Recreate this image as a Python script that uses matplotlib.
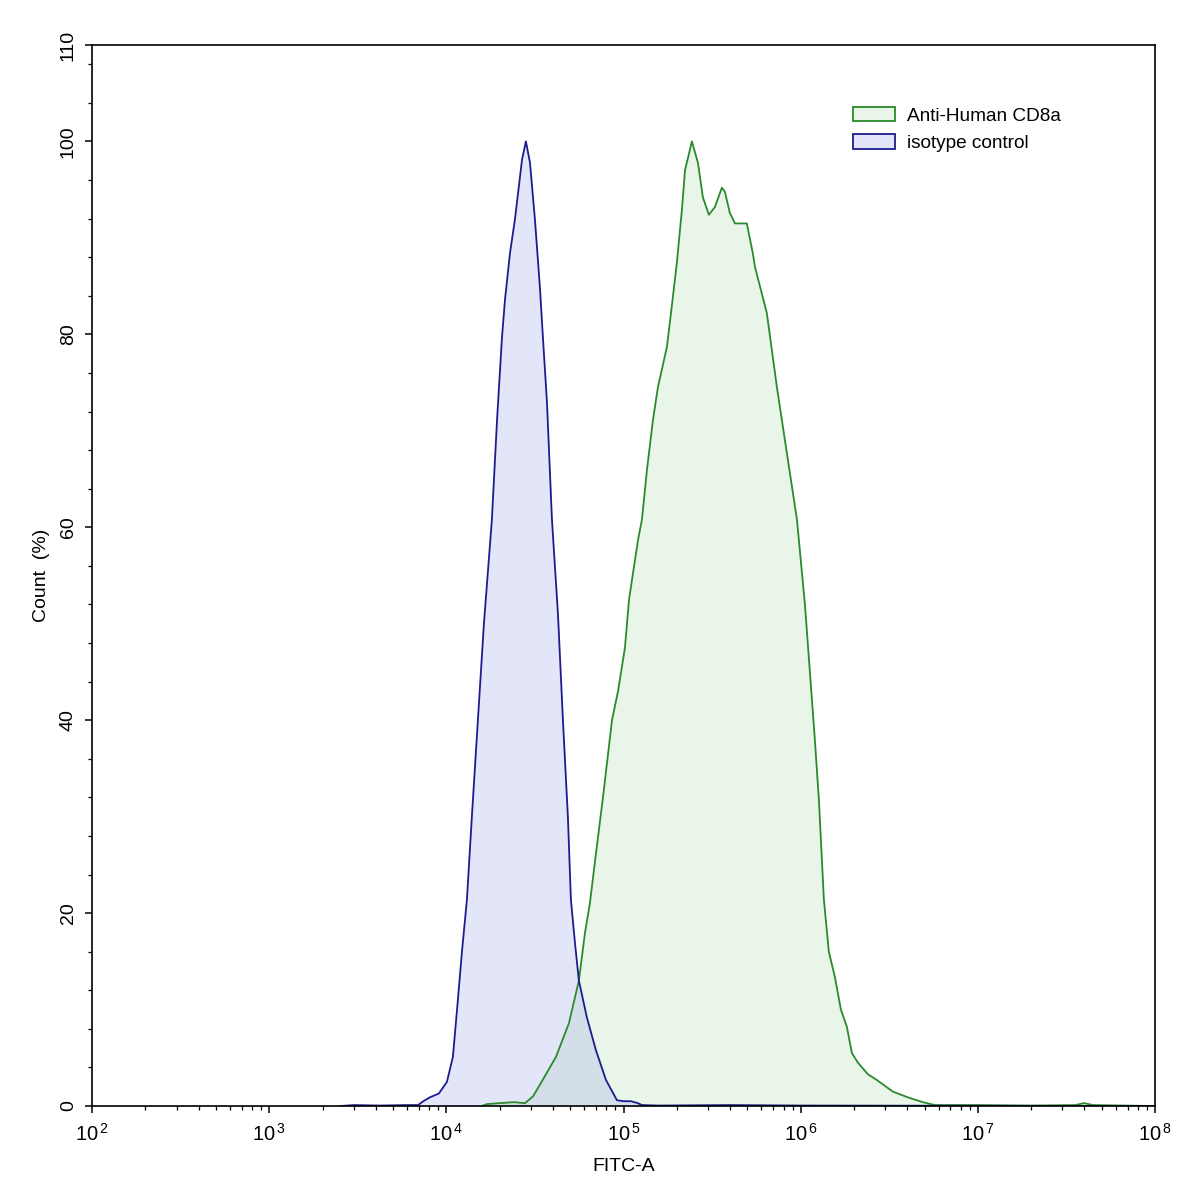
import numpy as np
import matplotlib
matplotlib.use("Agg")
import matplotlib.pyplot as plt
from matplotlib.patches import Patch
from matplotlib.ticker import FixedLocator, LogLocator, NullFormatter

plt.rcParams['font.family'] = ['Liberation Sans', 'DejaVu Sans']
plt.rcParams['mathtext.fontset'] = 'custom'
plt.rcParams['mathtext.rm'] = 'Liberation Sans'
plt.rcParams['mathtext.it'] = 'Liberation Sans'

# isotype control histogram (log10 FITC-A, count %)
iso_log = [3.40, 3.48, 3.62, 3.78, 3.84, 3.87, 3.907, 3.958, 4.003, 4.037, 4.065, 4.088,
           4.116, 4.144, 4.178, 4.212, 4.257, 4.286, 4.314, 4.331, 4.359, 4.387, 4.427,
           4.449, 4.472, 4.500, 4.528, 4.545, 4.568, 4.596, 4.630, 4.658, 4.686, 4.703,
           4.726, 4.748, 4.793, 4.844, 4.901, 4.963, 5.00, 5.042, 5.08, 5.104, 5.2,
           5.6, 6.0, 8.0]
iso_cnt = [0, 0.1, 0.05, 0.1, 0.1, 0.5, 0.9, 1.3, 2.5, 5.1, 11, 16,
           21.4, 30, 40, 50, 60.8, 71.1, 79.7, 83.6, 88.4, 91.9, 98.1,
           100, 97.8, 91.9, 84.9, 79.7, 72.9, 60.8, 51, 40, 30, 21.4,
           16.9, 13, 9.2, 5.8, 2.7, 0.6, 0.5, 0.5, 0.3, 0.1, 0.05,
           0.1, 0.05, 0]

# Anti-Human CD8a histogram
cd8_log = [4.20, 4.229, 4.302, 4.381, 4.444, 4.489, 4.534, 4.619, 4.692, 4.748, 4.782,
           4.810, 4.850, 4.884, 4.935, 4.969, 5.008, 5.031, 5.082, 5.104, 5.132, 5.166,
           5.194, 5.245, 5.273, 5.301, 5.330, 5.347, 5.386, 5.420, 5.448, 5.482, 5.516,
           5.555, 5.572, 5.600, 5.629, 5.696, 5.730, 5.742, 5.809, 5.866, 5.922, 5.979,
           6.024, 6.052, 6.080, 6.103, 6.131, 6.159, 6.193, 6.227, 6.261, 6.289, 6.323,
           6.379, 6.430, 6.520, 6.605, 6.690, 6.757, 7.0, 7.3, 7.55, 7.6, 7.65, 8.0]
cd8_cnt = [0, 0.2, 0.3, 0.4, 0.3, 1.0, 2.4, 5.1, 8.6, 13, 17.9,
           21, 27, 32, 40, 43, 47.5, 52.5, 58.7, 60.8, 65.9, 71.1,
           74.5, 78.7, 83, 87.4, 93, 97, 100, 97.8, 94.2, 92.4, 93.2,
           95.2, 94.8, 92.6, 91.5, 91.5, 88.4, 87, 82.2, 74.5, 67.7, 60.8,
           52, 45, 38, 31.7, 21.4, 16, 13.4, 10, 8.2, 5.5, 4.5,
           3.3, 2.7, 1.5, 0.9, 0.4, 0.1, 0.1, 0.05, 0.1, 0.3, 0.1, 0]

x_exps = [2, 3, 4, 5, 6, 7, 8]
y_ticks = [0, 20, 40, 60, 80, 100, 110]

green_line, green_fill = '#2b8a2b', '#e8f5e8'
blue_line, blue_fill = '#1c1c8f', '#a5acee'

fig = plt.figure(figsize=(11.97, 11.93), dpi=100)
ax = fig.add_axes([0.0769, 0.0729, 0.8880, 0.8894])

iso_x = 10 ** np.array(iso_log)
cd8_x = 10 ** np.array(cd8_log)

ax.fill_between(cd8_x, cd8_cnt, color=green_fill, lw=0)
ax.plot(cd8_x, cd8_cnt, color=green_line, lw=1.3)
ax.fill_between(iso_x, iso_cnt, color=blue_fill, alpha=0.3, lw=0)
ax.plot(iso_x, iso_cnt, color=blue_line, lw=1.3)

ax.set_xscale('log')
ax.set_xlim(1e2, 1e8)
ax.set_ylim(0, 110)
ax.xaxis.set_major_locator(FixedLocator([10.0 ** e for e in x_exps]))
ax.set_xticklabels([r'$10^{\,%d}$' % e for e in x_exps])
ax.xaxis.set_minor_locator(LogLocator(base=10, subs=np.arange(2, 10), numticks=50))
ax.xaxis.set_minor_formatter(NullFormatter())
ax.yaxis.set_major_locator(FixedLocator(y_ticks))
ax.yaxis.set_minor_locator(FixedLocator(np.arange(0, 111, 4)))

ax.tick_params(axis='both', which='major', length=5, width=1.1, direction='out')
ax.tick_params(axis='x', which='major', labelsize=14.5, pad=7)
ax.tick_params(axis='y', which='major', labelsize=14, pad=6)
ax.tick_params(axis='both', which='minor', length=3, width=0.9, direction='out')
for lbl in ax.get_yticklabels():
    lbl.set_rotation(90)
    lbl.set_va('center')
for s in ax.spines.values():
    s.set_linewidth(1.2)

ax.set_xlabel('FITC-A', fontsize=14, labelpad=10)
ax.set_ylabel('Count  (%)', fontsize=14, labelpad=7)

handles = [Patch(facecolor=green_fill, edgecolor=green_line, lw=1.3),
           Patch(facecolor='#e3e6fa', edgecolor=blue_line, lw=1.3)]
ax.legend(handles, ['Anti-Human CD8a', 'isotype control'], loc='upper right',
          bbox_to_anchor=(0.928, 0.958), frameon=False, fontsize=13.7,
          handlelength=2.2, handleheight=0.8, handletextpad=0.65, labelspacing=0.5)

fig.savefig('out.png', dpi=100, facecolor='white')
